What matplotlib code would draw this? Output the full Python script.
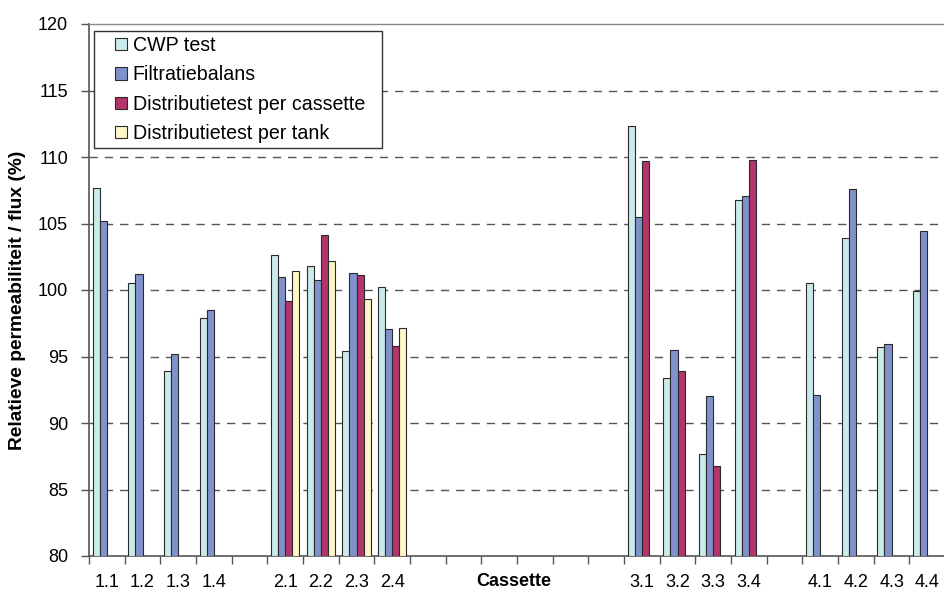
import numpy as np
import matplotlib
matplotlib.use('Agg')
import matplotlib.pyplot as plt
from matplotlib.patches import Rectangle

plt.rcParams['font.family'] = ['Liberation Sans', 'DejaVu Sans']

# 24 category slots, empty strings are the gaps in the chart
cassettes = ['1.1', '1.2', '1.3', '1.4', '', '2.1', '2.2', '2.3', '2.4',
             '', '', '', '', '', '', '3.1', '3.2', '3.3', '3.4', '',
             '4.1', '4.2', '4.3', '4.4']
n = np.nan
cwp = [107.7, 100.5, 93.9, 97.9, n, 102.65, 101.8, 95.45, 100.2,
       n, n, n, n, n, n, 112.3, 93.4, 87.65, 106.8, n,
       100.55, 103.9, 95.7, 99.9]
filtratie = [105.2, 101.2, 95.2, 98.5, n, 101.0, 100.75, 101.25, 97.1,
             n, n, n, n, n, n, 105.5, 95.5, 92.05, 107.1, n,
             92.1, 107.6, 95.95, 104.45]
dist_cassette = [n, n, n, n, n, 99.2, 104.1, 101.1, 95.8,
                 n, n, n, n, n, n, 109.7, 93.9, 86.8, 109.75, n,
                 n, n, n, n]
dist_tank = [n, n, n, n, n, 101.4, 102.2, 99.3, 97.15,
             n, n, n, n, n, n, n, n, n, n, n,
             n, n, n, n]

series = [cwp, filtratie, dist_cassette, dist_tank]
names = ['CWP test', 'Filtratiebalans', 'Distributietest per cassette',
         'Distributietest per tank']
colors = ['#CBEBEB', '#8191CC', '#B3356B', '#FEF6C6']

W, H = 944, 592
fs = 13
fig = plt.figure(figsize=(W / 100, H / 100), dpi=100)
ax = fig.add_axes([89 / W, 1 - 556 / H, 24 * 35.67 / W, 532 / H])

x = np.arange(len(cassettes))
bw = 0.2
for i, (vals, name, c) in enumerate(zip(series, names, colors)):
    vals = np.array(vals)
    ax.bar(x + (i - 1.5) * bw, vals - 80, bw, bottom=80, color=c,
           edgecolor='#2a2a2a', linewidth=0.8, label=name, zorder=3)

ax.set_xlim(-0.5, len(cassettes) - 0.5)
ax.set_ylim(80, 120)
ax.set_yticks(np.arange(80, 121, 5))
ax.set_xticks(x)
ax.set_xticklabels(cassettes)
ax.set_xticks(np.arange(-0.5, len(cassettes)), minor=True)
ax.tick_params(axis='x', which='major', length=0, pad=13, labelsize=fs)
ax.tick_params(axis='x', which='minor', length=6, width=1, color='#555555',
               direction='out')
ax.tick_params(axis='y', length=6, width=1, color='#555555', pad=9,
               labelsize=fs)

for yv in range(85, 120, 5):
    ax.axhline(yv, color='#555555', linewidth=1, linestyle=(0, (6, 5)),
               zorder=1)

for s in ['left', 'bottom']:
    ax.spines[s].set_color('#555555')
    ax.spines[s].set_linewidth(1.2)
ax.spines['top'].set_color('#888888')
ax.spines['top'].set_linewidth(1)
ax.spines['right'].set_visible(False)

fig.text(514 / W, 1 - 581 / H, 'Cassette', ha='center', va='center',
         fontsize=fs, fontweight='bold')
fig.text(18 / W, 1 - 300 / H, 'Relatieve permeabiliteit / flux (%)',
         ha='center', va='center', rotation=90, fontsize=13.8,
         fontweight='bold')

# legend frame drawn separately so the padding can match the original
box = Rectangle((94 / W, 1 - 147.5 / H), 288 / W, 116.5 / H,
                transform=fig.transFigure, facecolor='white',
                edgecolor='#333333', linewidth=1, zorder=5, clip_on=False)
ax.add_patch(box)
leg = ax.legend(loc='upper left', bbox_to_anchor=(115 / W, 1 - 36 / H),
                bbox_transform=fig.transFigure, frameon=False,
                fontsize=14.1, borderpad=0, borderaxespad=0,
                handlelength=0.6, handleheight=0.6, handletextpad=0.3,
                labelspacing=0.53)
leg.set_zorder(6)

fig.savefig('out.png', dpi=100)
